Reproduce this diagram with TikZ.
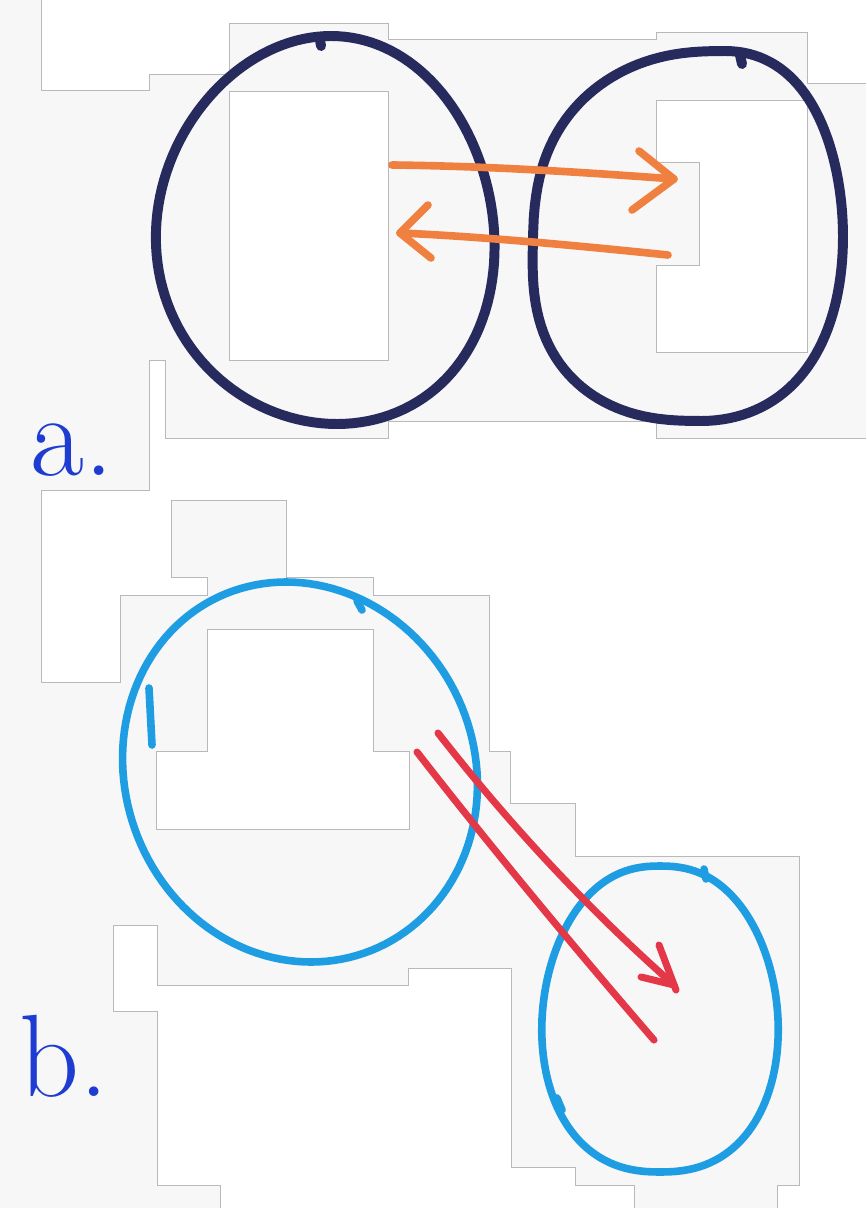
\documentclass[tikz,border=0pt]{standalone}
\usepackage{tikz}

\definecolor{paper}{RGB}{247,247,247}
\definecolor{inknavy}{RGB}{38,42,92}
\definecolor{inkorange}{RGB}{240,128,64}
\definecolor{inksky}{RGB}{30,157,226}
\definecolor{inkred}{RGB}{228,56,72}
\definecolor{inkblue}{RGB}{30,60,210}

\begin{document}
\begin{tikzpicture}[x=0.03cm,y=-0.03cm,
  declare function={cp(\t,\e)=cos(\t)*(abs(cos(\t))+0.001)^(-\e);
                    sp(\t,\e)=sin(\t)*(abs(sin(\t))+0.001)^(-\e);
                    ox(\t)=ifthenelse(cos(\t)>0,cos(\t)*(1+0.08*sin(\t)),cp(\t,0.25));
                    oy(\t)=ifthenelse(cos(\t)>0,sin(\t),sp(\t,0.25));},
  patch/.style={fill=white,draw=gray!55,line width=0.5pt},
  rim/.style={draw=gray!55,line width=0.5pt},
  navypen/.style={draw=inknavy,line width=8.5pt,line cap=round,line join=round},
  skypen/.style={draw=inksky,line width=6.5pt,line cap=round,line join=round},
  orangepen/.style={draw=inkorange,line width=6.5pt,line cap=round,line join=round},
  redpen/.style={draw=inkred,line width=6pt,line cap=round,line join=round},
  tag/.style={text=inkblue,font=\fontsize{100}{100}\selectfont,inner sep=0pt}]
\useasboundingbox (0,0) rectangle (866,1208);
\fill[paper] (0,0) rectangle (866,1208);

% white patches of the scan
\fill[white] (41,0) -- (41,90) -- (149,90) -- (149,74) -- (229,74) -- (229,23) -- (388,23) -- (388,39)
  -- (656,39) -- (656,32) -- (807,32) -- (807,83) -- (866,83) -- (866,0) -- cycle;
\draw[rim] (41,0) -- (41,90) -- (149,90) -- (149,74) -- (229,74) -- (229,23) -- (388,23) -- (388,39)
  -- (656,39) -- (656,32) -- (807,32) -- (807,83) -- (866,83);
\filldraw[patch] (229,91) rectangle (388,360);
\filldraw[patch] (656,100) -- (807,100) -- (807,352) -- (656,352) -- (656,265) -- (699,265) -- (699,162) -- (656,162) -- cycle;

\fill[white] (866,438) -- (656,438) -- (656,421) -- (388,421) -- (388,438) -- (165,438) -- (165,360) -- (149,360)
  -- (149,490) -- (41,490) -- (41,682) -- (120,682) -- (120,595) -- (207,595) -- (207,577) -- (171,577)
  -- (171,500) -- (286,500) -- (286,577) -- (373,577) -- (373,595) -- (489,595) -- (489,751) -- (510,751)
  -- (510,803) -- (575,803) -- (575,856) -- (799,856) -- (799,1185) -- (777,1185) -- (777,1208) -- (866,1208) -- cycle;
\draw[rim] (866,438) -- (656,438) -- (656,421) -- (388,421) -- (388,438) -- (165,438) -- (165,360) -- (149,360)
  -- (149,490) -- (41,490) -- (41,682) -- (120,682) -- (120,595) -- (207,595) -- (207,577) -- (171,577)
  -- (171,500) -- (286,500) -- (286,577) -- (373,577) -- (373,595) -- (489,595) -- (489,751) -- (510,751)
  -- (510,803) -- (575,803) -- (575,856) -- (799,856) -- (799,1185) -- (777,1185) -- (777,1208);
\filldraw[patch] (207,629) -- (373,629) -- (373,751) -- (409,751) -- (409,829) -- (156,829) -- (156,751) -- (207,751) -- cycle;

\fill[white] (634,1208) -- (634,1185) -- (575,1185) -- (575,1167) -- (511,1167) -- (511,968) -- (408,968) -- (408,985)
  -- (157,985) -- (157,925) -- (113,925) -- (113,1011) -- (157,1011) -- (157,1185) -- (220,1185) -- (220,1208) -- cycle;
\draw[rim] (634,1208) -- (634,1185) -- (575,1185) -- (575,1167) -- (511,1167) -- (511,968) -- (408,968) -- (408,985)
  -- (157,985) -- (157,925) -- (113,925) -- (113,1011) -- (157,1011) -- (157,1185) -- (220,1185) -- (220,1208);

% a. two cells
\draw[navypen] plot[domain=0:360,samples=145]
  ({325+169*cos(\x)*(1+0.06*sin(\x))+9*sin(\x)*sin(\x)+3*sin(\x)},{230+194*sin(\x)}) -- cycle;
\draw[navypen] plot[domain=0:360,samples=145]
  ({688+155*ox(\x)+25*sin(\x)*sin(\x)-12*sin(\x)},{236+185*oy(\x)}) -- cycle;
\draw[navypen] (320,40) -- (321,46);
\draw[navypen] (740,55) -- (742,64);

\coordinate (goS) at (392,165);
\coordinate (goT) at (674,179);
\coordinate (backS) at (668,255);
\coordinate (backT) at (400,233);
\draw[orangepen] (goS) .. controls (485,166) and (580,172) .. (goT);
\draw[orangepen] (639,151) -- (goT) -- (632,210);
\draw[orangepen] (backS) .. controls (590,247) and (490,237) .. (backT);
\draw[orangepen] (428,205) -- (backT) -- (431,258);

\node[tag] (labA) at (72,450) {a.};

% b. one cell into the other
\draw[skypen] plot[domain=0:360,samples=145]
  ({300+177*cos(\x)-1.5*sin(\x)*sin(\x)+12.5*sin(\x)},{772+190*sin(\x)}) -- cycle;
\draw[skypen] (149,688) -- (152,745);
\draw[skypen] (357,601) -- (362,610);
\draw[skypen] plot[domain=0:360,samples=145]
  ({660+118*cp(\x,0.15)*(1+0.06*sin(\x))},{1019+153*sin(\x)}) -- cycle;
\draw[skypen] (704,869) -- (706,879);
\draw[skypen] (557,1098) -- (562,1110);

\coordinate (pushS) at (438,733);
\coordinate (pushT) at (674,985);
\coordinate (trailS) at (417,752);
\coordinate (trailE) at (654,1040);
\draw[redpen] (pushS) .. controls (509,824) and (587,908) .. (pushT);
\draw[redpen] (659,945) -- (676,990);
\draw[redpen] (641,977) -- (pushT);
\draw[redpen] (trailS) .. controls (494,851) and (573,946) .. (trailE);

\node[tag] (labB) at (64,1056) {b.};
\end{tikzpicture}
\end{document}
